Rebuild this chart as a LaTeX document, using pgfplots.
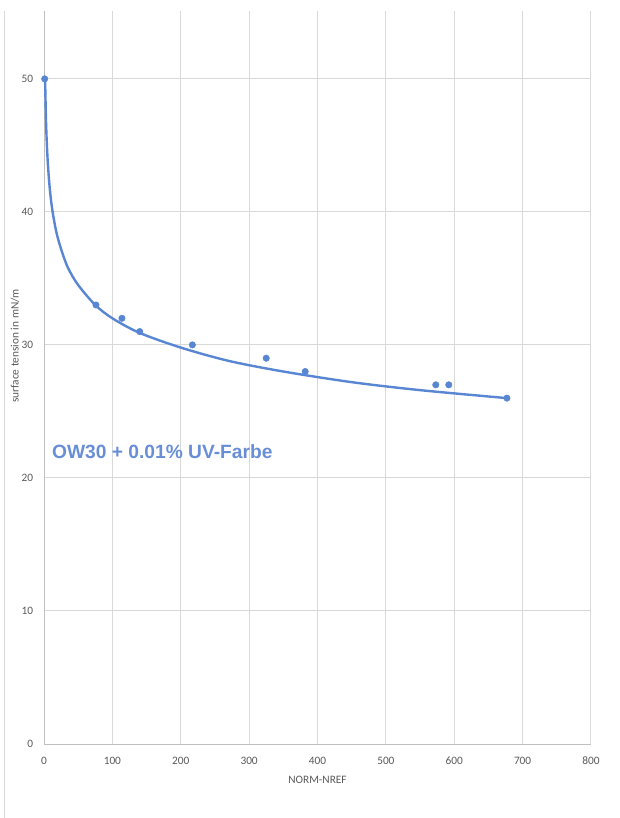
\documentclass[border=0pt]{standalone}
\usepackage{fontspec}
\setmainfont{Carlito}
\newfontfamily\arialfont{Liberation Sans}
\usepackage{pgfplots}
\pgfplotsset{compat=1.18}
\definecolor{ser}{RGB}{88,134,210}
\definecolor{txtblue}{RGB}{104,142,214}
\definecolor{gridc}{RGB}{217,217,217}
\definecolor{axc}{RGB}{191,191,191}
\definecolor{lab}{RGB}{89,89,89}
\begin{document}
\begin{tikzpicture}
\begin{axis}[
  name=ax,
  scale only axis,
  width=410.25pt, height=549.75pt,
  xmin=0, xmax=800, ymin=0, ymax=55.1,
  xtick={0,100,...,800}, ytick={0,10,...,50},
  axis x line*=bottom, axis y line*=left,
  axis line style={draw=axc, line width=0.75pt, -},
  grid=major,
  major grid style={draw=gridc, line width=0.75pt},
  major tick length=0pt,
  /pgf/number format/assume math mode=true,
  tick label style={font=\fontsize{8.5}{10}\selectfont, text=lab, inner sep=0pt},
  yticklabel style={xshift=-7.9pt},
  xticklabel style={anchor=north, text height=6pt, text depth=0pt, yshift=-9pt},
  xlabel={NORM-NREF},
  ylabel={surface tension in mN/m},
  label style={font=\fontsize{8.5}{10}\selectfont, text=lab},
  xlabel style={at={(axis description cs:0.5,0)}, anchor=center, yshift=-27pt},
  ylabel style={at={(axis description cs:0,0.543)}, anchor=center, yshift=21.75pt},
  clip=false,
]
% trend line
\addplot[ser, line width=1.8pt, smooth, no marks] coordinates {
(1.6,50) (3,46.7) (5,44.2) (8,42.0) (12,40.2) (18,38.5) (25,37.2) (35,35.8)
(50,34.5) (75,33.0) (100,32.0) (140,30.9) (200,29.8) (270,28.8) (350,28.0)
(450,27.2) (550,26.6) (677,26.0)
};
% measured points
\addplot[only marks, mark=*, mark size=2.4pt, mark options={fill=ser, draw=ser}] coordinates {
(1,50) (76,33) (114,32) (140,31) (217,30) (325,29) (382,28) (573,27) (592,27) (677,26)
};
\node[anchor=west, inner sep=0pt, text=txtblue, font=\arialfont\bfseries\fontsize{14.4}{17}\selectfont] at (axis cs:11.5,22) {OW30 + 0.01\% UV-Farbe};
\end{axis}
\draw[gridc, line width=0.75pt] ([xshift=-29.25pt]ax.north west) -- ([xshift=-29.25pt,yshift=-55.5pt]ax.south west);
\pgfresetboundingbox
\path[use as bounding box] ([xshift=-33pt,yshift=-55.5pt]ax.south west) rectangle ([xshift=21.75pt,yshift=8.25pt]ax.north east);
\end{tikzpicture}
\end{document}
